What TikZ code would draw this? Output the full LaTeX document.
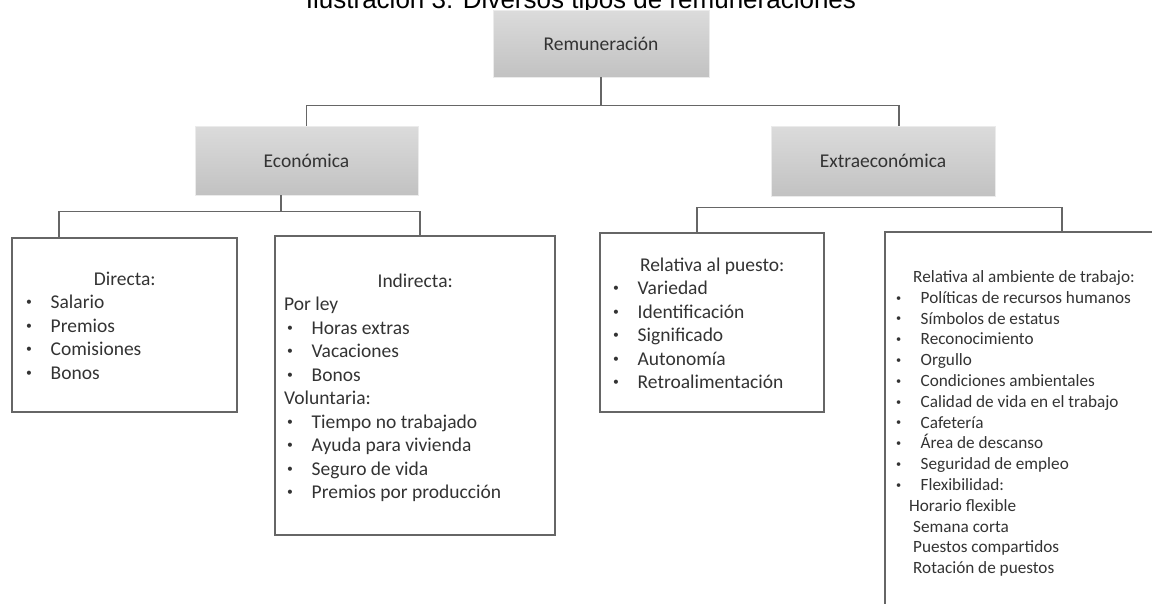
\documentclass[tikz,border=0pt]{standalone}
\usepackage{fontspec}
\setmainfont{Carlito}
\newfontfamily\titlefont{Liberation Sans}

\tikzset{
  catbox/.style={shade, top color=black!14, bottom color=black!24, draw=black!8,
    text=black!80, font=\fontsize{19.5}{23.5}\selectfont},
  listbox/.style={draw=black!60, line width=1.3pt},
  link/.style={draw=black!60, line width=1.3pt},
  listtext/.style={anchor=base west, inner sep=0pt, text=black!80,
    font=\fontsize{19.5}{23.5}\selectfont}
}
\newcommand{\bul}[2][0pt]{\leavevmode\hspace*{#1}\makebox[24.5pt][l]{\raisebox{0.13em}{\scalebox{0.6}{\textbullet}}}#2\par}

\begin{document}
\begin{tikzpicture}[x=1pt,y=-1pt]
\useasboundingbox (0,0) rectangle (1152,603);
\clip (0,0) rectangle (1152,603);

% title (cut at the top edge)
\node[anchor=base, inner sep=0pt, font=\titlefont\fontsize{26}{30}\selectfont] (title) at (581,8)
  {Ilustración 3: Diversos tipos de remuneraciones};

% grey category boxes
\node[catbox, minimum width=216, minimum height=67] (rem) at (601,43.5) {Remuneración};
\node[catbox, minimum width=223, minimum height=69] (eco) at (306.5,160.5) {Económica};
\node[catbox, minimum width=224, minimum height=70] (ext) at (883,161) {Extraeconómica};

% detail boxes
\node[listbox, minimum width=225, minimum height=174] (dir) at (124.5,325) {};
\node[listbox, minimum width=280, minimum height=299] (ind) at (415,385.5) {};
\node[listbox, minimum width=224, minimum height=179] (rel) at (712,322.5) {};
\node[listbox, minimum width=300, minimum height=420] (amb) at (1035,442) {};

% connectors
\draw[link] (rem.south) -- ++(0,28) coordinate (topbar) -| (eco.north);
\draw[link] (topbar) -| ([xshift=16]ext.north);
\draw[link] ([xshift=-25.5]eco.south) -- ++(0,16) coordinate (ecobar) -| ([xshift=-65.5]dir.north);
\draw[link] (ecobar) -| ([xshift=5]ind.north);
\draw[link] ([xshift=-15]rel.north) -- ++(0,-25) -| ([xshift=27]amb.north);

% box texts
\node[listtext] (dirtxt) at (26,285) {
  \begin{minipage}[t]{197pt}
  \centerline{Directa:}
  \bul{Salario}
  \bul{Premios}
  \bul{Comisiones}
  \bul{Bonos}
  \end{minipage}
};
\node[listtext] (indtxt) at (284,287) {
  \begin{minipage}[t]{262pt}
  \centerline{Indirecta:}
  Por ley\par
  \bul[3pt]{Horas extras}
  \bul[3pt]{Vacaciones}
  \bul[3pt]{Bonos}
  Voluntaria:\par
  \bul[3pt]{Tiempo no trabajado}
  \bul[3pt]{Ayuda para vivienda}
  \bul[3pt]{Seguro de vida}
  \bul[3pt]{Premios por producción}
  \end{minipage}
};
\node[listtext] (reltxt) at (613,271) {
  \begin{minipage}[t]{198pt}
  \centerline{Relativa al puesto:}
  \bul{Variedad}
  \bul{Identificación}
  \bul{Significado}
  \bul{Autonomía}
  \bul{Retroalimentación}
  \end{minipage}
};
\node[listtext, font=\fontsize{17.2}{20.8}\selectfont] (ambtxt) at (896,282.5) {
  \begin{minipage}[t]{250pt}
  \hspace*{17pt}Relativa al ambiente de trabajo:\par
  \bul{Políticas de recursos humanos}
  \bul{Símbolos de estatus}
  \bul{Reconocimiento}
  \bul{Orgullo}
  \bul{Condiciones ambientales}
  \bul{Calidad de vida en el trabajo}
  \bul{Cafetería}
  \bul{Área de descanso}
  \bul{Seguridad de empleo}
  \bul{Flexibilidad:}
  \hspace*{13pt}Horario flexible\par
  \hspace*{17pt}Semana corta\par
  \hspace*{17pt}Puestos compartidos\par
  \hspace*{17pt}Rotación de puestos\par
  \end{minipage}
};
\end{tikzpicture}
\end{document}
